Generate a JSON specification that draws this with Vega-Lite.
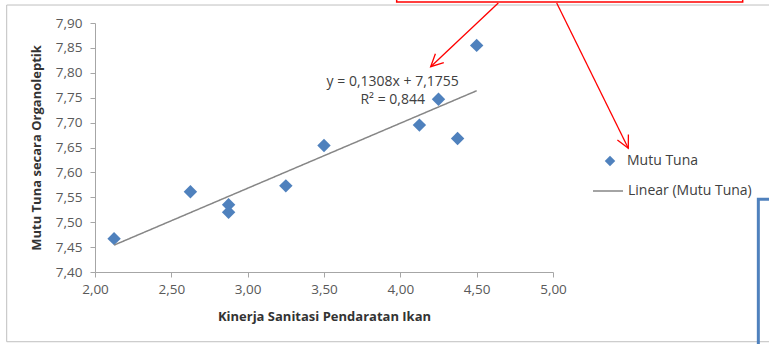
{
  "$schema": "https://vega.github.io/schema/vega-lite/v6.json",
  "autosize": "none",
  "width": 458,
  "height": 249,
  "padding": {"left": 95, "top": 23, "right": 216, "bottom": 72},
  "background": "white",
  "config": {
    "view": {"stroke": null},
    "font": "Open Sans",
    "axis": {
      "grid": false,
      "domainColor": "#A6A6A6",
      "tickColor": "#A6A6A6",
      "tickSize": 5,
      "labelFont": "Open Sans",
      "labelFontSize": 13.5,
      "labelColor": "#595959",
      "labelFlush": false,
      "labelOverlap": false,
      "titleFont": "Open Sans",
      "titleFontSize": 13,
      "titleFontWeight": "bold",
      "titleColor": "#333333"
    },
    "legend": {
      "padding": 0,
      "labelFont": "Open Sans",
      "labelFontSize": 14,
      "labelColor": "#404040"
    }
  },
  "datasets": {
    "pts": [
      {"x": 2.125, "y": 7.467},
      {"x": 2.625, "y": 7.561},
      {"x": 2.875, "y": 7.535},
      {"x": 2.875, "y": 7.520},
      {"x": 3.25, "y": 7.573},
      {"x": 3.5, "y": 7.654},
      {"x": 4.125, "y": 7.695},
      {"x": 4.25, "y": 7.747},
      {"x": 4.375, "y": 7.668},
      {"x": 4.5, "y": 7.855}
    ],
    "trend": [
      {"x": 2.125, "y": 7.454},
      {"x": 4.5, "y": 7.764}
    ],
    "frame": [{"x": 1.4216, "x2": 6.7, "y": 7.9361, "y2": 7.26}],
    "redbox": [{"x": 3.976, "x2": 6.2425, "y": 7.9422, "y2": 7.99}],
    "arrows": [
      {"x": 4.6417, "y": 7.9402, "x2": 4.1988, "y2": 7.8123},
      {"x": 5.0242, "y": 7.9402, "x2": 5.4932, "y2": 7.6484}
    ],
    "head1": [{"x": 4.1988, "y": 7.8123}],
    "head2": [{"x": 5.4932, "y": 7.6484}],
    "bluebox": [{"x": 6.345, "x2": 6.8, "y": 7.546, "y2": 7.2}],
    "eq": [
      {"x": 3.95, "y": 7.782, "label": "y = 0,1308x + 7,1755"},
      {"x": 3.95, "y": 7.745, "label": "R² = 0,844"}
    ]
  },
  "encoding": {
    "x": {
      "field": "x", "type": "quantitative",
      "scale": {"domain": [2, 5], "nice": false, "zero": false},
      "axis": {
        "title": "Kinerja Sanitasi Pendaratan Ikan",
        "values": [2, 2.5, 3, 3.5, 4, 4.5, 5],
        "labelExpr": "replace(format(datum.value, '.2f'), '.', ',')",
        "labelPadding": 5,
        "titlePadding": 15
      }
    },
    "y": {
      "field": "y", "type": "quantitative",
      "scale": {"domain": [7.4, 7.9], "nice": false, "zero": false},
      "axis": {
        "title": "Mutu Tuna secara Organoleptik",
        "values": [7.4, 7.45, 7.5, 7.55, 7.6, 7.65, 7.7, 7.75, 7.8, 7.85, 7.9],
        "labelExpr": "replace(format(datum.value, '.2f'), '.', ',')",
        "labelPadding": 8,
        "titlePadding": 12
      }
    }
  },
  "layer": [
    {
      "data": {"name": "frame"},
      "mark": {"type": "rect", "filled": false, "stroke": "#BFBFBF", "strokeWidth": 1},
      "encoding": {"x2": {"field": "x2"}, "y2": {"field": "y2"}}
    },
    {
      "data": {"name": "redbox"},
      "mark": {"type": "rect", "filled": false, "stroke": "#FF0000", "strokeWidth": 1.5},
      "encoding": {"x2": {"field": "x2"}, "y2": {"field": "y2"}}
    },
    {
      "data": {"name": "arrows"},
      "mark": {"type": "rule", "color": "#FF0000", "strokeWidth": 1.3},
      "encoding": {"x2": {"field": "x2"}, "y2": {"field": "y2"}}
    },
    {
      "data": {"name": "head1"},
      "mark": {"type": "point", "shape": "M -0.5 1 L 0 0 L 0.5 1", "filled": false, "stroke": "#FF0000", "strokeWidth": 1.3, "size": 600, "angle": 226.7, "opacity": 1}
    },
    {
      "data": {"name": "head2"},
      "mark": {"type": "point", "shape": "M -0.5 1 L 0 0 L 0.5 1", "filled": false, "stroke": "#FF0000", "strokeWidth": 1.3, "size": 600, "angle": 153.8, "opacity": 1}
    },
    {
      "data": {"name": "bluebox"},
      "mark": {"type": "rect", "filled": false, "stroke": "#4F81BD", "strokeWidth": 3},
      "encoding": {"x2": {"field": "x2"}, "y2": {"field": "y2"}}
    },
    {
      "data": {"name": "pts"},
      "mark": {"type": "point", "shape": "diamond", "filled": true, "size": 180, "opacity": 1},
      "encoding": {
        "color": {
          "datum": "Mutu Tuna",
          "scale": {"domain": ["Mutu Tuna"], "range": ["#4F81BD"]},
          "legend": {
            "title": null,
            "orient": "none",
            "legendX": 508,
            "legendY": 131,
            "symbolType": "diamond",
            "symbolSize": 110,
            "symbolOpacity": 1,
            "labelOffset": 10
          }
        }
      }
    },
    {
      "data": {"name": "trend"},
      "mark": {"type": "line", "strokeWidth": 1.5, "color": "#868686"},
      "encoding": {
        "strokeDash": {
          "datum": "Linear (Mutu Tuna)",
          "scale": {"domain": ["Linear (Mutu Tuna)"], "range": [[1, 0]]},
          "legend": {
            "title": null,
            "orient": "none",
            "legendX": 497,
            "legendY": 152,
            "symbolType": "stroke",
            "symbolSize": 900,
            "symbolStrokeWidth": 1.5,
            "symbolStrokeColor": "#868686",
            "labelOffset": 4
          }
        }
      }
    },
    {
      "data": {"name": "eq"},
      "mark": {"type": "text", "font": "Open Sans", "fontSize": 14, "color": "#404040", "align": "center", "baseline": "middle"},
      "encoding": {"text": {"field": "label"}}
    }
  ]
}
